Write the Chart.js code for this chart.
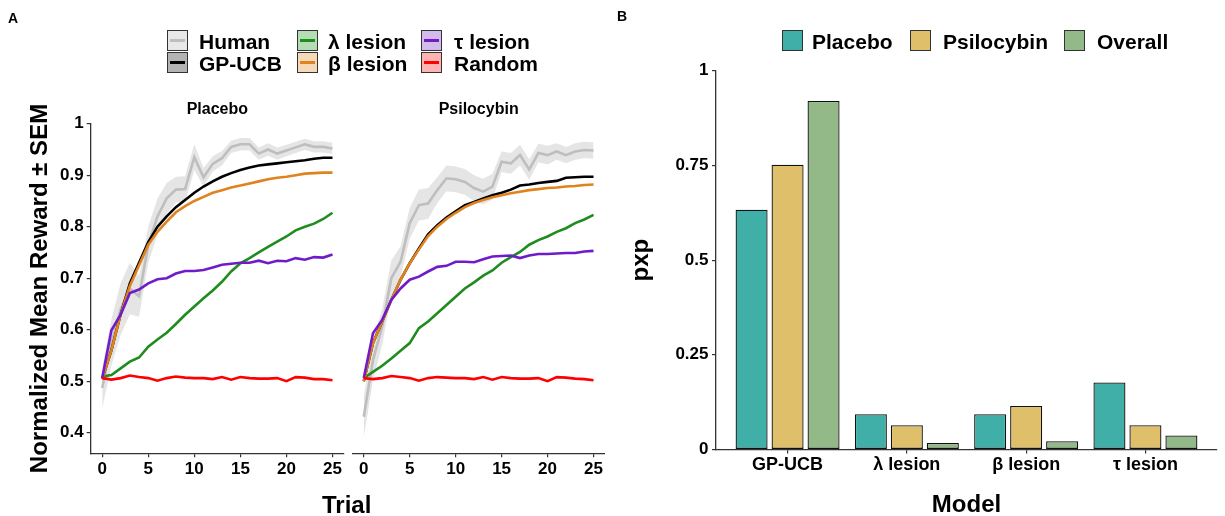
<!DOCTYPE html>
<html>
<head>
<meta charset="utf-8">
<script src="https://cdn.jsdelivr.net/npm/chart.js@4.4.0/dist/chart.umd.min.js"></script>
<style>
  body { margin: 0; background: #fff; font-family: "Liberation Sans", Arial, sans-serif; }
  #page { position: relative; width: 1225px; height: 516px; overflow: hidden; }
  canvas { position: absolute; }
  .txt { position: absolute; font-weight: bold; color: #000; white-space: nowrap; }
  .key { position: absolute; width: 19px; height: 19px; border: 1px solid #333; }
  .key span { position: absolute; left: 2px; right: 2px; top: 8px; height: 3px; }
</style>
</head>
<body>
<div id="page">
  <canvas id="placebo" width="347" height="516" style="left:0;top:0"></canvas>
  <canvas id="psilo" width="258" height="516" style="left:347px;top:0"></canvas>
  <canvas id="pxp" width="615" height="516" style="left:610px;top:0"></canvas>
</div>
<script>
// trials and series
var trials = [0, 1, 2, 3, 4, 5, 6, 7, 8, 9, 10, 11, 12, 13, 14, 15, 16, 17, 18, 19, 20, 21, 22, 23, 24, 25];
var seriesNames = ["Human", "GP-UCB", "λ lesion", "β lesion", "τ lesion", "Random"];

// placebo panel
var placeboHuman = [0.487, 0.575, 0.64, 0.68, 0.665, 0.765, 0.82, 0.855, 0.872, 0.873, 0.935, 0.896, 0.922, 0.933, 0.955, 0.960, 0.960, 0.942, 0.950, 0.942, 0.948, 0.954, 0.960, 0.955, 0.955, 0.952];
var placeboHumanSem = [0.04, 0.045, 0.05, 0.05, 0.04, 0.035, 0.035, 0.03, 0.025, 0.025, 0.025, 0.018, 0.015, 0.014, 0.012, 0.012, 0.012, 0.012, 0.012, 0.012, 0.011, 0.011, 0.011, 0.011, 0.011, 0.011];
var placeboGPUCB = [0.505, 0.56, 0.63, 0.69, 0.73, 0.77, 0.80, 0.82, 0.838, 0.852, 0.866, 0.878, 0.888, 0.897, 0.904, 0.910, 0.915, 0.919, 0.921, 0.923, 0.925, 0.927, 0.929, 0.932, 0.934, 0.934];
var placeboLambda = [0.509, 0.512, 0.525, 0.538, 0.546, 0.567, 0.581, 0.594, 0.611, 0.629, 0.645, 0.661, 0.676, 0.693, 0.713, 0.729, 0.739, 0.750, 0.761, 0.771, 0.781, 0.793, 0.800, 0.806, 0.815, 0.827];
var placeboBeta = [0.505, 0.56, 0.63, 0.685, 0.725, 0.765, 0.79, 0.81, 0.828, 0.84, 0.85, 0.858, 0.866, 0.871, 0.876, 0.88, 0.884, 0.888, 0.892, 0.895, 0.897, 0.90, 0.903, 0.904, 0.905, 0.905];
var placeboTau = [0.506, 0.599, 0.629, 0.671, 0.678, 0.690, 0.698, 0.700, 0.709, 0.714, 0.714, 0.716, 0.721, 0.726, 0.728, 0.730, 0.730, 0.734, 0.729, 0.734, 0.733, 0.739, 0.736, 0.741, 0.740, 0.746];
var placeboRandom = [0.506, 0.503, 0.506, 0.511, 0.508, 0.506, 0.501, 0.506, 0.509, 0.507, 0.506, 0.506, 0.504, 0.508, 0.503, 0.508, 0.506, 0.505, 0.505, 0.506, 0.500, 0.508, 0.507, 0.504, 0.504, 0.502];

// psilocybin panel
var psiloHuman = [0.431, 0.541, 0.606, 0.70, 0.732, 0.807, 0.842, 0.845, 0.871, 0.894, 0.892, 0.887, 0.875, 0.868, 0.878, 0.926, 0.923, 0.939, 0.911, 0.943, 0.939, 0.946, 0.939, 0.946, 0.949, 0.948];
var psiloHumanSem = [0.04, 0.04, 0.035, 0.035, 0.03, 0.03, 0.03, 0.03, 0.025, 0.025, 0.025, 0.025, 0.025, 0.025, 0.025, 0.02, 0.02, 0.02, 0.02, 0.018, 0.018, 0.016, 0.016, 0.016, 0.016, 0.016];
var psiloGPUCB = [0.50, 0.574, 0.616, 0.658, 0.697, 0.729, 0.758, 0.785, 0.803, 0.818, 0.830, 0.842, 0.848, 0.855, 0.861, 0.866, 0.872, 0.880, 0.882, 0.885, 0.887, 0.889, 0.895, 0.896, 0.897, 0.897];
var psiloLambda = [0.506, 0.518, 0.530, 0.544, 0.559, 0.574, 0.603, 0.616, 0.632, 0.648, 0.664, 0.680, 0.692, 0.705, 0.715, 0.730, 0.741, 0.751, 0.765, 0.774, 0.781, 0.790, 0.797, 0.807, 0.814, 0.823];
var psiloBeta = [0.50, 0.574, 0.616, 0.658, 0.697, 0.729, 0.756, 0.782, 0.80, 0.815, 0.827, 0.838, 0.846, 0.852, 0.857, 0.861, 0.865, 0.868, 0.871, 0.873, 0.875, 0.876, 0.878, 0.879, 0.881, 0.882];
var psiloTau = [0.506, 0.593, 0.619, 0.658, 0.680, 0.697, 0.703, 0.713, 0.722, 0.724, 0.732, 0.732, 0.731, 0.737, 0.742, 0.743, 0.744, 0.739, 0.744, 0.747, 0.747, 0.748, 0.749, 0.749, 0.752, 0.753];
var psiloRandom = [0.506, 0.504, 0.506, 0.510, 0.508, 0.506, 0.501, 0.506, 0.508, 0.507, 0.506, 0.506, 0.504, 0.508, 0.503, 0.508, 0.506, 0.505, 0.505, 0.506, 0.500, 0.508, 0.507, 0.505, 0.504, 0.502];

// axes of panel A
var xTickValues = [0, 5, 10, 15, 20, 25];
var yTickValuesA = [0.4, 0.5, 0.6, 0.7, 0.8, 0.9, 1];
var yTickLabelsA = ["0.4", "0.5", "0.6", "0.7", "0.8", "0.9", "1"];

// panel B
var models = ["GP-UCB", "λ lesion", "β lesion", "τ lesion"];
var groups = ["Placebo", "Psilocybin", "Overall"];
var pxpPlacebo = [0.633, 0.093, 0.093, 0.177];
var pxpPsilocybin = [0.752, 0.064, 0.115, 0.064];
var pxpOverall = [0.920, 0.017, 0.022, 0.037];
var yTickValuesB = [0, 0.25, 0.5, 0.75, 1];
var yTickLabelsB = ["0", "0.25", "0.5", "0.75", "1"];

var FONT = '"Liberation Sans", Arial, sans-serif';
Chart.defaults.font.family = FONT;
Chart.defaults.color = "#000";

var lineColors = ["#BEBEBE", "#000000", "#1E8C1E", "#E0821E", "#6F1CC8", "#FF0000"];
var keyFills = ["#E8E8E8", "#B3B3B3", "#B5DDB5", "#F5D9B9", "#D4BBEE", "#FFB3B3"];
var barColors = ["#40AFA7", "#E0BF6A", "#93B988"];

function pts(arr) {
  return arr.map(function (v, i) { return { x: trials[i], y: v }; });
}

function lineSet(label, arr, color, order) {
  return { label: label, data: pts(arr), borderColor: color, borderWidth: 2.6, pointRadius: 0, fill: false, order: order, tension: 0 };
}

function axisGrid() {
  return { display: true, drawOnChartArea: false, drawTicks: true, tickLength: 4, color: "#333", lineWidth: 1.2 };
}

function makePanel(id, title, d, showY) {
  var upper = d.human.map(function (v, i) { return v + d.sem[i]; });
  var lower = d.human.map(function (v, i) { return v - d.sem[i]; });
  return new Chart(document.getElementById(id), {
    type: "line",
    data: {
      datasets: [
        lineSet(seriesNames[5], d.random, lineColors[5], 0),
        lineSet(seriesNames[4], d.tau, lineColors[4], 1),
        lineSet(seriesNames[3], d.beta, lineColors[3], 2),
        lineSet(seriesNames[2], d.lambda, lineColors[2], 3),
        lineSet(seriesNames[1], d.gpucb, lineColors[1], 4),
        lineSet(seriesNames[0], d.human, lineColors[0], 5),
        { label: "upper", data: pts(upper), borderWidth: 0, pointRadius: 0, fill: "+1", backgroundColor: "rgba(190,190,190,0.4)", order: 10 },
        { label: "lower", data: pts(lower), borderWidth: 0, pointRadius: 0, fill: false, order: 11 }
      ]
    },
    options: {
      responsive: false,
      animation: false,
      layout: { padding: { left: showY ? 0 : 5.3, right: showY ? 3 : 0, bottom: 0, top: 0 } },
      plugins: {
        legend: { display: false },
        tooltip: { enabled: false },
        title: { display: true, text: title, fullSize: false, color: "#000", font: { size: 16, weight: "bold" }, padding: { top: 100, bottom: 4.5 } }
      },
      scales: {
        x: {
          type: "linear", min: -1.25, max: 26.25,
          afterBuildTicks: function (s) { s.ticks = xTickValues.map(function (v) { return { value: v }; }); },
          grid: axisGrid(),
          border: { display: true, color: "#333", width: 1.3 },
          ticks: { color: "#000", font: { size: 17, weight: "bold" }, padding: 2, maxRotation: 0, autoSkip: false },
          afterFit: function (s) { s.height = 62.7; }
        },
        y: {
          display: showY,
          min: 0.36, max: 1.0,
          afterBuildTicks: function (s) { s.ticks = yTickValuesA.map(function (v) { return { value: v }; }); },
          grid: axisGrid(),
          border: { display: true, color: "#333", width: 1.3 },
          ticks: { color: "#000", font: { size: 17, weight: "bold" }, padding: 3, autoSkip: false,
            callback: function (v, i) { return yTickLabelsA[i]; } },
          title: { display: true, text: "Normalized Mean Reward ± SEM", color: "#000", font: { size: 24, weight: "bold" }, padding: { top: 25.6, bottom: 0 } },
          afterFit: function (s) { s.width = showY ? 90.7 : 0; }
        }
      }
    }
  });
}

makePanel("placebo", "Placebo", { human: placeboHuman, sem: placeboHumanSem, gpucb: placeboGPUCB, lambda: placeboLambda, beta: placeboBeta, tau: placeboTau, random: placeboRandom }, true);
makePanel("psilo", "Psilocybin", { human: psiloHuman, sem: psiloHumanSem, gpucb: psiloGPUCB, lambda: psiloLambda, beta: psiloBeta, tau: psiloTau, random: psiloRandom }, false);

// bar chart
var barData = [pxpPlacebo, pxpPsilocybin, pxpOverall];
new Chart(document.getElementById("pxp"), {
  type: "bar",
  data: {
    datasets: barData.map(function (arr, k) {
      return {
        label: groups[k],
        data: arr.map(function (v, i) { return { x: i, y: v }; }),
        backgroundColor: barColors[k],
        borderColor: "#111",
        borderWidth: 1.3,
        borderSkipped: false,
        categoryPercentage: 0.905,
        barPercentage: 0.89
      };
    })
  },
  options: {
    responsive: false,
    animation: false,
    layout: { padding: { top: 70.7, right: 8, left: 0, bottom: 0 } },
    plugins: { legend: { display: false }, tooltip: { enabled: false } },
    scales: {
      x: {
        type: "linear", min: -0.6, max: 3.6, offset: false,
        afterBuildTicks: function (s) { s.ticks = models.map(function (m, i) { return { value: i }; }); },
        grid: { display: true, drawOnChartArea: false, drawTicks: true, tickLength: 4, color: "#333", lineWidth: 1.2, offset: false },
        border: { display: true, color: "#333", width: 1.3 },
        ticks: { color: "#000", font: { size: 18, weight: "bold" }, padding: 1, maxRotation: 0, autoSkip: false,
          callback: function (v, i) { return models[i]; } },
        title: { display: true, text: "Model", color: "#000", font: { size: 24, weight: "bold", lineHeight: 0.875 }, padding: { top: 0, bottom: 0 } },
        afterFit: function (s) { s.height = 66.5; }
      },
      y: {
        min: 0, max: 1,
        afterBuildTicks: function (s) { s.ticks = yTickValuesB.map(function (v) { return { value: v }; }); },
        grid: axisGrid(),
        border: { display: true, color: "#333", width: 1.3 },
        ticks: { color: "#000", font: { size: 17, weight: "bold" }, padding: 3.5, autoSkip: false,
          callback: function (v, i) { return yTickLabelsB[i]; } },
        title: { display: true, text: "pxp", color: "#000", font: { size: 24, weight: "bold" }, padding: { top: 16.6, bottom: 0 } },
        afterFit: function (s) { s.width = 106; }
      }
    }
  }
});

// legends and free text
var page = document.getElementById("page");
function addText(str, left, top, size) {
  var el = document.createElement("div");
  el.className = "txt";
  el.style.left = left + "px";
  el.style.top = top + "px";
  el.style.fontSize = size + "px";
  el.style.lineHeight = size + "px";
  el.textContent = str;
  page.appendChild(el);
  return el;
}
function addKey(left, top, fill, line) {
  var k = document.createElement("div");
  k.className = "key";
  k.style.left = left + "px";
  k.style.top = top + "px";
  k.style.background = fill;
  if (line) {
    var s = document.createElement("span");
    s.style.background = line;
    k.appendChild(s);
  }
  page.appendChild(k);
}

addText("A", 8, 11, 14);
addText("B", 617, 9, 14);
addText("Trial", 322, 493, 24);

// legend A, column-major 3 x 2
var colKeyX = [167, 297, 421];
var colTextX = [199, 328, 454];
var rowKeyY = [30, 52];
for (var i = 0; i < seriesNames.length; i++) {
  var c = Math.floor(i / 2), r = i % 2;
  addKey(colKeyX[c], rowKeyY[r], keyFills[i], lineColors[i]);
  addText(seriesNames[i], colTextX[c], rowKeyY[r] + 0.5, 21);
}

// legend B
var legBKeyX = [782, 910, 1064];
var legBTextX = [812, 943, 1097];
for (var j = 0; j < groups.length; j++) {
  addKey(legBKeyX[j], 30, barColors[j], null);
  addText(groups[j], legBTextX[j], 30.5, 21);
}
</script>
</body>
</html>
